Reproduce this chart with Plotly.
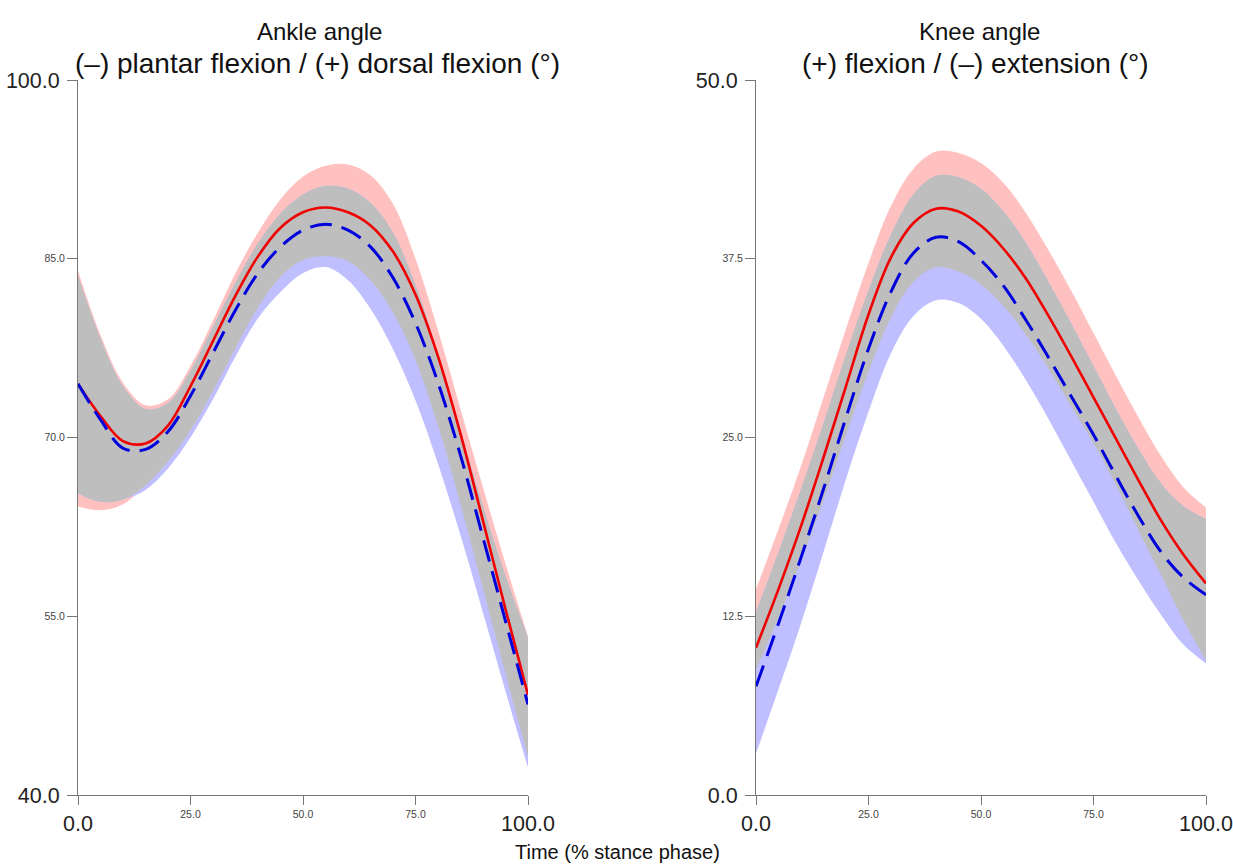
import plotly.graph_objects as go

# ---------------- data ----------------
t = [0, 5, 10, 15, 20, 25, 30, 35, 40, 45, 50, 55, 60, 65, 70, 75, 80, 85, 90, 95, 100]

# Ankle (left)
ankle_red_mean = [74.5, 71.8, 69.7, 69.5, 71.0, 74.3, 78.1, 81.9, 85.2, 87.6, 88.9, 89.3, 88.9, 87.8, 85.6, 82.0, 76.8, 70.3, 63.0, 55.6, 48.4]
ankle_red_up = [84.0, 78.6, 74.6, 72.7, 73.2, 76.0, 79.8, 83.8, 87.2, 90.0, 91.9, 92.8, 92.9, 92.0, 89.6, 85.0, 79.0, 72.4, 65.8, 59.4, 53.3]
ankle_red_lo = [64.2, 63.9, 64.4, 66.0, 68.0, 70.6, 73.9, 77.5, 80.9, 83.5, 84.9, 85.2, 84.8, 83.2, 80.5, 76.5, 71.0, 64.4, 57.3, 50.2, 43.2]
ankle_blue_mean = [74.5, 71.5, 69.1, 69.0, 70.5, 73.5, 77.1, 80.7, 83.8, 86.0, 87.4, 87.9, 87.4, 86.0, 83.4, 79.6, 74.6, 68.5, 61.6, 54.6, 47.6]
ankle_blue_up = [83.6, 78.3, 74.3, 72.4, 72.9, 75.6, 79.3, 83.0, 86.3, 88.8, 90.4, 91.1, 90.9, 89.7, 87.2, 82.8, 77.0, 70.6, 64.2, 58.4, 53.2]
ankle_blue_lo = [65.3, 64.6, 64.8, 65.6, 67.4, 70.0, 73.2, 76.8, 80.0, 82.2, 83.8, 84.3, 83.2, 80.8, 77.4, 73.1, 67.8, 61.8, 55.3, 48.7, 42.3]

# Knee (right)
knee_red_mean = [10.3, 14.4, 18.8, 23.6, 28.6, 33.6, 37.6, 40.0, 41.0, 40.8, 39.8, 38.2, 36.1, 33.5, 30.7, 27.8, 24.9, 22.0, 19.2, 16.8, 14.8]
knee_red_up = [14.4, 18.6, 23.0, 27.8, 32.6, 37.2, 41.2, 43.8, 45.0, 44.9, 44.2, 42.8, 40.7, 38.1, 35.3, 32.3, 29.3, 26.4, 23.7, 21.5, 20.1]
knee_red_lo = [8.8, 12.4, 16.4, 20.6, 25.2, 29.6, 33.4, 35.9, 36.9, 36.6, 35.7, 34.2, 32.2, 29.8, 27.2, 24.6, 21.7, 18.5, 15.4, 12.2, 9.4]
knee_blue_mean = [7.6, 12.0, 16.6, 21.4, 26.4, 31.2, 35.2, 37.9, 39.0, 38.7, 37.4, 35.6, 33.2, 30.6, 27.9, 25.2, 22.3, 19.5, 17.0, 15.2, 14.0]
knee_blue_up = [12.8, 17.0, 21.4, 26.0, 30.8, 35.3, 39.2, 42.0, 43.3, 43.2, 42.4, 40.8, 38.6, 35.9, 33.0, 30.0, 27.0, 24.2, 21.8, 20.2, 19.3]
knee_blue_lo = [2.9, 7.4, 12.0, 17.0, 22.1, 26.8, 30.9, 33.5, 34.6, 34.4, 33.3, 31.4, 29.0, 26.3, 23.4, 20.5, 17.6, 15.0, 12.6, 10.5, 9.2]

x_big_ticks = [0, 100]
x_small_ticks = [25, 50, 75]
ankle_big_ticks = [40, 100]
ankle_small_ticks = [55, 70, 85]
knee_big_ticks = [0, 50]
knee_small_ticks = [12.5, 25, 37.5]

# ---------------- style ----------------
W, H = 1233, 867
PINK = "#FFC0C0"
LBLUE = "#BFBFFF"
GREY = "#BEBEBE"
RED = "#F00000"
BLUE = "#0000DD"
AXC = "#777777"
FONT = "Liberation Sans"

fig = go.Figure()


def band(up, lo, color, xa, ya):
    fig.add_trace(go.Scatter(x=t, y=lo, mode="lines", line=dict(width=0, shape="spline"),
                             hoverinfo="skip", showlegend=False, xaxis=xa, yaxis=ya))
    fig.add_trace(go.Scatter(x=t, y=up, mode="lines", line=dict(width=0, shape="spline"),
                             fill="tonexty", fillcolor=color, hoverinfo="skip",
                             showlegend=False, xaxis=xa, yaxis=ya))


def panel(rm, ru, rl, bm, bu, bl, xa, ya):
    band(ru, rl, PINK, xa, ya)
    band(bu, bl, LBLUE, xa, ya)
    gu = [min(a, b) for a, b in zip(ru, bu)]
    gl = [max(a, b) for a, b in zip(rl, bl)]
    band(gu, gl, GREY, xa, ya)
    fig.add_trace(go.Scatter(x=t, y=rm, mode="lines", line=dict(color=RED, width=2.6, shape="spline"),
                             showlegend=False, xaxis=xa, yaxis=ya))
    fig.add_trace(go.Scatter(x=t, y=bm, mode="lines",
                             line=dict(color=BLUE, width=3, shape="spline", dash="22px,10px"),
                             showlegend=False, xaxis=xa, yaxis=ya))


panel(ankle_red_mean, ankle_red_up, ankle_red_lo, ankle_blue_mean, ankle_blue_up, ankle_blue_lo, "x", "y")
panel(knee_red_mean, knee_red_up, knee_red_lo, knee_blue_mean, knee_blue_up, knee_blue_lo, "x2", "y2")

xd1 = [78 / W, 528 / W]
xd2 = [756 / W, 1206 / W]
yd = [1 - 795 / H, 1 - 80 / H]

BIG = dict(family=FONT, size=21.5, color="#222222")
SMALL = dict(family=FONT, size=10.5, color="#444444")


def xbase(dom, anchor):
    return dict(domain=dom, range=[0, 100], anchor=anchor, showgrid=False, zeroline=False,
                automargin=False, showline=True, linecolor=AXC, linewidth=1, ticks="outside",
                ticklen=9, tickcolor=AXC, tickwidth=1, tickvals=x_big_ticks,
                ticktext=[f"{v:.1f}" for v in x_big_ticks], tickfont=BIG, ticklabelstandoff=0)


def xover(dom, over, anchor):
    return dict(domain=dom, range=[0, 100], overlaying=over, anchor=anchor, showgrid=False,
                automargin=False, zeroline=False, showline=False, ticks="outside", ticklen=9,
                tickcolor=AXC, tickwidth=1, tickvals=x_small_ticks,
                ticktext=[f"{v:.1f}" for v in x_small_ticks], tickfont=SMALL, ticklabelstandoff=0)


def ybase(rng, ticks, anchor):
    return dict(domain=yd, range=rng, anchor=anchor, showgrid=False, zeroline=False,
                automargin=False, showline=True, linecolor=AXC, linewidth=1, ticks="outside",
                ticklen=10, tickcolor=AXC, tickwidth=1, tickvals=ticks,
                ticktext=[f"{v:.1f}" for v in ticks], tickfont=BIG, ticklabelstandoff=3)


def yover(rng, ticks, over, anchor):
    return dict(domain=yd, range=rng, overlaying=over, anchor=anchor, side="left", showgrid=False,
                automargin=False, zeroline=False, showline=False, ticks="outside", ticklen=10,
                tickcolor=AXC, tickwidth=1, tickvals=ticks, ticktext=[f"{v:.1f}" for v in ticks],
                tickfont=SMALL, ticklabelstandoff=0)


fig.update_layout(
    width=W, height=H, margin=dict(l=0, r=0, t=0, b=0, autoexpand=False),
    paper_bgcolor="white", plot_bgcolor="white", showlegend=False,
    xaxis=xbase(xd1, "y"), xaxis2=xbase(xd2, "y2"),
    xaxis3=xover(xd1, "x", "y"), xaxis4=xover(xd2, "x2", "y2"),
    yaxis=ybase([40, 100], ankle_big_ticks, "x"), yaxis2=ybase([0, 50], knee_big_ticks, "x2"),
    yaxis3=yover([40, 100], ankle_small_ticks, "y", "x"),
    yaxis4=yover([0, 50], knee_small_ticks, "y2", "x2"),
)
# dummy traces so overlay axes render
for xa, ya in [("x3", "y"), ("x4", "y2"), ("x", "y3"), ("x2", "y4")]:
    fig.add_trace(go.Scatter(x=[None], y=[None], xaxis=xa, yaxis=ya, showlegend=False))

ann = [
    (319, 31, "Ankle angle", 24),
    (317, 63, "(–) plantar flexion / (+) dorsal flexion (°)", 28),
    (979, 31, "Knee angle", 24),
    (975, 63, "(+) flexion / (–) extension (°)", 28),
    (617, 852, "Time (% stance phase)", 20),
]
for xpx, ypx, txt, fs in ann:
    fig.add_annotation(x=xpx / W, y=1 - ypx / H, xref="paper", yref="paper", text=txt,
                       showarrow=False, xanchor="center", yanchor="middle",
                       font=dict(family=FONT, size=fs, color="#111111"))

fig.write_html("out.html", post_script="document.body.style.margin='0px';",
               config={"displayModeBar": False})
